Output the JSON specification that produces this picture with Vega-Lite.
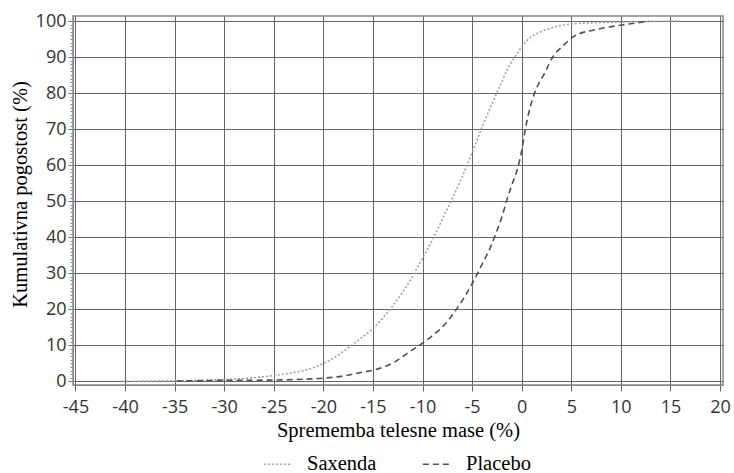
{
  "$schema": "https://vega.github.io/schema/vega-lite/v6.json",
  "autosize": "none",
  "width": 650,
  "height": 369,
  "padding": {"left": 73, "top": 16, "right": 11, "bottom": 88},
  "background": "white",
  "config": {
    "view": {"stroke": "#888", "strokeWidth": 1.5},
    "axis": {
      "labelFont": "Open Sans",
      "labelFontSize": 18,
      "labelColor": "#333",
      "titleFont": "Liberation Serif, Times New Roman, serif",
      "titleFontSize": 20.5,
      "titleFontWeight": "normal",
      "titleColor": "#000",
      "gridColor": "#666",
      "gridOpacity": 1,
      "gridWidth": 1,
      "domainColor": "#888",
      "tickColor": "#666"
    },
    "legend": {
      "labelFont": "Liberation Serif, Times New Roman, serif",
      "labelFontSize": 20.5,
      "labelColor": "#000"
    }
  },
  "data": {
    "values": [
      {"series": "Saxenda", "x": -40.3, "y": 0},
      {"series": "Saxenda", "x": -35, "y": 0.2},
      {"series": "Saxenda", "x": -30, "y": 0.5},
      {"series": "Saxenda", "x": -28, "y": 0.8},
      {"series": "Saxenda", "x": -26, "y": 1.3},
      {"series": "Saxenda", "x": -24, "y": 2.0},
      {"series": "Saxenda", "x": -22, "y": 3.0},
      {"series": "Saxenda", "x": -21, "y": 3.8},
      {"series": "Saxenda", "x": -20, "y": 5.0},
      {"series": "Saxenda", "x": -19, "y": 6.4},
      {"series": "Saxenda", "x": -18, "y": 8.3},
      {"series": "Saxenda", "x": -17, "y": 10.3},
      {"series": "Saxenda", "x": -16, "y": 12.4},
      {"series": "Saxenda", "x": -15, "y": 14.7},
      {"series": "Saxenda", "x": -14, "y": 17.6},
      {"series": "Saxenda", "x": -13, "y": 21.0},
      {"series": "Saxenda", "x": -12, "y": 24.8},
      {"series": "Saxenda", "x": -11, "y": 29.2},
      {"series": "Saxenda", "x": -10, "y": 34.2},
      {"series": "Saxenda", "x": -9, "y": 39.3},
      {"series": "Saxenda", "x": -8, "y": 45.0},
      {"series": "Saxenda", "x": -7, "y": 50.8},
      {"series": "Saxenda", "x": -6, "y": 56.8},
      {"series": "Saxenda", "x": -5, "y": 63.5},
      {"series": "Saxenda", "x": -4, "y": 70.5},
      {"series": "Saxenda", "x": -3, "y": 77.0},
      {"series": "Saxenda", "x": -2, "y": 83.2},
      {"series": "Saxenda", "x": -1.4, "y": 86.8},
      {"series": "Saxenda", "x": -0.7, "y": 90},
      {"series": "Saxenda", "x": 0, "y": 92.8},
      {"series": "Saxenda", "x": 0.5, "y": 94.5},
      {"series": "Saxenda", "x": 1, "y": 95.7},
      {"series": "Saxenda", "x": 2, "y": 97.1},
      {"series": "Saxenda", "x": 3, "y": 98.1},
      {"series": "Saxenda", "x": 4, "y": 98.8},
      {"series": "Saxenda", "x": 5, "y": 99.2},
      {"series": "Saxenda", "x": 7, "y": 99.5},
      {"series": "Saxenda", "x": 10, "y": 99.7},
      {"series": "Saxenda", "x": 13, "y": 99.9},
      {"series": "Saxenda", "x": 16, "y": 100},
      {"series": "Placebo", "x": -34.8, "y": 0.1},
      {"series": "Placebo", "x": -30, "y": 0.3},
      {"series": "Placebo", "x": -26, "y": 0.35},
      {"series": "Placebo", "x": -22, "y": 0.6},
      {"series": "Placebo", "x": -20, "y": 0.9},
      {"series": "Placebo", "x": -18, "y": 1.5},
      {"series": "Placebo", "x": -16, "y": 2.6},
      {"series": "Placebo", "x": -15, "y": 3.1},
      {"series": "Placebo", "x": -14, "y": 3.9},
      {"series": "Placebo", "x": -13, "y": 5.1},
      {"series": "Placebo", "x": -12, "y": 6.9},
      {"series": "Placebo", "x": -11, "y": 8.8},
      {"series": "Placebo", "x": -10, "y": 10.6},
      {"series": "Placebo", "x": -9, "y": 12.7},
      {"series": "Placebo", "x": -8, "y": 15.1},
      {"series": "Placebo", "x": -7, "y": 18.4},
      {"series": "Placebo", "x": -6, "y": 22.4},
      {"series": "Placebo", "x": -5, "y": 27.1},
      {"series": "Placebo", "x": -4, "y": 32.5},
      {"series": "Placebo", "x": -3, "y": 38.2},
      {"series": "Placebo", "x": -2.5, "y": 41.8},
      {"series": "Placebo", "x": -2, "y": 45.6},
      {"series": "Placebo", "x": -1.5, "y": 50.3},
      {"series": "Placebo", "x": -1, "y": 54.5},
      {"series": "Placebo", "x": -0.5, "y": 58.3},
      {"series": "Placebo", "x": 0, "y": 64},
      {"series": "Placebo", "x": 0.3, "y": 69},
      {"series": "Placebo", "x": 0.7, "y": 74.4},
      {"series": "Placebo", "x": 1.3, "y": 80},
      {"series": "Placebo", "x": 2.3, "y": 85.5},
      {"series": "Placebo", "x": 3.2, "y": 90.3},
      {"series": "Placebo", "x": 4.2, "y": 93.2},
      {"series": "Placebo", "x": 5.3, "y": 95.8},
      {"series": "Placebo", "x": 7.8, "y": 97.8},
      {"series": "Placebo", "x": 10.1, "y": 98.9},
      {"series": "Placebo", "x": 11.4, "y": 99.4},
      {"series": "Placebo", "x": 12.8, "y": 100}
    ]
  },
  "resolve": {"axis": {"y": "independent"}},
  "layer": [
    {
      "mark": {"type": "line", "strokeWidth": 1.6, "interpolate": "monotone"},
      "encoding": {
        "x": {
          "field": "x", "type": "quantitative",
          "scale": {"domain": [-45.25, 20.3], "nice": false, "zero": false},
          "axis": {"values": [-45,-40,-35,-30,-25,-20,-15,-10,-5,0,5,10,15,20], "labelExpr": "'' + datum.value", "title": "Sprememba telesne mase (%)", "tickSize": 6, "labelPadding": 7, "titlePadding": 4}
        },
        "y": {
          "field": "y", "type": "quantitative",
          "scale": {"domain": [-1, 101.4], "nice": false, "zero": false},
          "axis": {"values": [0,10,20,30,40,50,60,70,80,90,100], "title": "Kumulativna pogostost (%)", "titleY": 178, "tickSize": 5, "labelPadding": 2, "titlePadding": 5}
        },
        "color": {
          "field": "series", "type": "nominal",
          "scale": {"domain": ["Saxenda", "Placebo"], "range": ["#a0a0a0", "#505050"]},
          "legend": {"title": null, "orient": "none", "direction": "horizontal", "legendX": 190, "legendY": 433, "symbolType": "stroke", "symbolSize": 800, "symbolStrokeWidth": 1.5, "labelOffset": 14, "columnPadding": 42}
        },
        "strokeDash": {
          "field": "series", "type": "nominal",
          "scale": {"domain": ["Saxenda", "Placebo"], "range": [[2, 2], [6, 4]]},
          "legend": {"title": null, "orient": "none", "direction": "horizontal", "legendX": 190, "legendY": 433, "symbolType": "stroke", "symbolSize": 800, "symbolStrokeWidth": 1.5, "labelOffset": 14, "columnPadding": 42}
        }
      }
    },
    {
      "mark": {"type": "point", "opacity": 0},
      "encoding": {
        "y": {
          "field": "y", "type": "quantitative",
          "scale": {"domain": [-1, 101.4], "nice": false, "zero": false},
          "axis": {"orient": "left", "values": [0,1,2,3,4,5,6,7,8,9,10,11,12,13,14,15,16,17,18,19,20,21,22,23,24,25,26,27,28,29,30,31,32,33,34,35,36,37,38,39,40,41,42,43,44,45,46,47,48,49,50,51,52,53,54,55,56,57,58,59,60,61,62,63,64,65,66,67,68,69,70,71,72,73,74,75,76,77,78,79,80,81,82,83,84,85,86,87,88,89,90,91,92,93,94,95,96,97,98,99,100], "labels": false, "grid": false, "domain": false, "title": null, "tickSize": 3, "tickColor": "#888"}
        }
      }
    }
  ]
}
